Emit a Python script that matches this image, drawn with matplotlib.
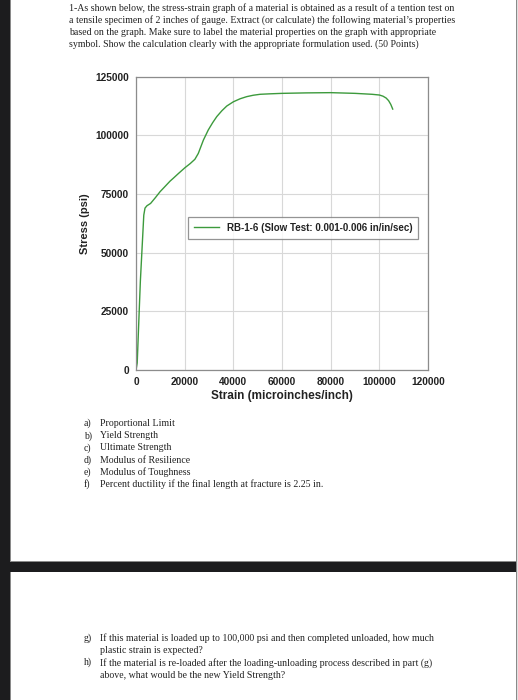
import matplotlib
matplotlib.use("Agg")
import matplotlib.pyplot as plt
from matplotlib.patches import Rectangle

W, H = 518, 700

strain = [0, 500, 1200, 1800, 2300, 2800, 3200, 3700, 4500, 6000, 8000, 9900,
          12000, 14000, 15300, 17500, 20100, 22300, 24200, 25600, 27700, 29700, 31500,
          33200, 35300, 37300, 40000, 42800, 45500, 48200, 51000, 55000, 60000, 70000,
          80000, 90000, 97000, 100000, 101500, 102800, 103800, 104700, 105500]
stress = [0, 3000, 22000, 38000, 48000, 58000, 66000, 69000, 70000, 71000, 73500, 76000,
          78300, 80500, 81700, 83800, 86200, 88000, 89800, 92300, 98000, 102300, 105400,
          108000, 110500, 112500, 114300, 115600, 116500, 117100, 117500, 117700, 117900, 118100,
          118200, 117900, 117500, 117200, 116700, 115900, 114800, 113200, 111200]

xticks = [0, 20000, 40000, 60000, 80000, 100000, 120000]
yticks = [0, 25000, 50000, 75000, 100000, 125000]
legend_label = "RB-1-6 (Slow Test: 0.001-0.006 in/in/sec)"

title_lines = [
    "1-As shown below, the stress-strain graph of a material is obtained as a result of a tention test on",
    "a tensile specimen of 2 inches of gauge. Extract (or calculate) the following material\u2019s properties",
    "based on the graph. Make sure to label the material properties on the graph with appropriate",
    "symbol. Show the calculation clearly with the appropriate formulation used. (50 Points)",
]
items1 = [("a)", "Proportional Limit"), ("b)", "Yield Strength"), ("c)", "Ultimate Strength"),
          ("d)", "Modulus of Resilience"), ("e)", "Modulus of Toughness"),
          ("f)", "Percent ductility if the final length at fracture is 2.25 in.")]
items2 = [("g)", "If this material is loaded up to 100,000 psi and then completed unloaded, how much"),
          (None, "plastic strain is expected?"),
          ("h)", "If the material is re-loaded after the loading-unloading process described in part (g)"),
          (None, "above, what would be the new Yield Strength?")]

fig = plt.figure(figsize=(W / 100, H / 100), dpi=100)
fig.patch.set_facecolor("white")

def px_rect(x, y, w, h, color, z=0):
    fig.patches.append(Rectangle((x / W, 1 - (y + h) / H), w / W, h / H,
                                 transform=fig.transFigure, facecolor=color,
                                 edgecolor="none", zorder=z))

dark = "#1c1c1e"
px_rect(0, 0, 10, H, dark)
px_rect(10, 0, 1, H, "#8a8a8a")
px_rect(10, 562, 508, 10, dark)
px_rect(10, 561, 507, 1, "#8a8a8a")
px_rect(515.5, 0, 1.2, H, "#8a8a8a")
px_rect(516.7, 0, 1.3, H, "#e0e0e0")

serif = "Liberation Serif"
def ftext(x, y, s, **kw):
    fig.text(x / W, 1 - y / H, s, family=serif, fontsize=7.1, va="center", ha="left",
             color="#222222", **kw)

for i, line in enumerate(title_lines):
    ftext(69, 8.5 + i * 12, line)
for i, (lab, txt) in enumerate(items1):
    ftext(84, 423.5 + i * 12.2, lab)
    ftext(100, 423.5 + i * 12.2, txt)
for i, (lab, txt) in enumerate(items2):
    yy = 637.7 + i * 12.45
    if lab:
        ftext(84, yy, lab)
    ftext(100, yy, txt)

# chart axes
ax_l, ax_r, ax_t, ax_b = 136, 428, 76.7, 370
ax = fig.add_axes([ax_l / W, 1 - ax_b / H, (ax_r - ax_l) / W, (ax_b - ax_t) / H])
ax.plot(strain, stress, color="#3c9a3c", lw=1.0, label=legend_label)
ax.set_xlim(0, 120000)
ax.set_ylim(0, 125000)
ax.set_xticks(xticks)
ax.set_yticks(yticks)
sans = "Liberation Sans"
ax.set_xticklabels([str(v) for v in xticks], family=sans, fontsize=7.3, fontweight="bold", color="#222222")
ax.set_yticklabels([str(v) for v in yticks], family=sans, fontsize=7.3, fontweight="bold", color="#222222")
ax.tick_params(length=0, pad=5)
ax.grid(True, color="#d8d8d8", lw=0.8)
ax.set_axisbelow(True)
for s in ax.spines.values():
    s.set_color("#8c8c8c")
    s.set_linewidth(0.9)
ax.set_xlabel("Strain (microinches/inch)", family=sans, fontsize=8.5, fontweight="bold",
              color="#222222", labelpad=2)
ax.set_ylabel("Stress (psi)", family=sans, fontsize=8, fontweight="bold",
              color="#222222", labelpad=4)
leg = ax.legend(loc="upper left", bbox_to_anchor=(0.178, 0.522), borderaxespad=0,
                prop={"family": sans, "size": 7.0, "weight": "bold"}, fancybox=False,
                frameon=True, handlelength=2.6, borderpad=0.6, handletextpad=0.8)
leg.get_frame().set_edgecolor("#7a7a7a")
leg.get_frame().set_linewidth(0.9)
for t in leg.get_texts():
    t.set_color("#222222")

fig.savefig("out.png", dpi=100)
